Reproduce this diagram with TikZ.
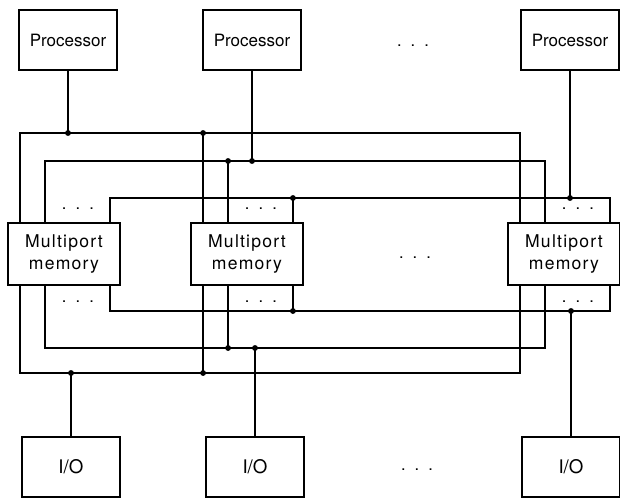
\documentclass[tikz,border=0pt]{standalone}
\usepackage{fontspec}
\setmainfont{TeX Gyre Heros}
\newfontfamily\memfont[LetterSpace=7]{TeX Gyre Heros}
\newcommand{\MemBus}[3]{%
  \draw (mem1-#2) |- (mem3-#2 |- #1) -- (mem3-#2);
  \draw (mem2-#2) -- (mem2-#2 |- #1) node[junc] {};
  \draw (#3) -- (#3 |- #1) node[junc] {};
}

\begin{document}
\begin{tikzpicture}[x=0.03cm,y=-0.03cm,line width=1.35pt,
    unitbox/.style={draw,line width=1.6pt,minimum width=2.94cm,minimum height=1.8cm,
      font=\fontsize{14.5}{16}\selectfont},
    mem/.style={unitbox,minimum width=3.36cm,minimum height=1.86cm,align=center,
      font=\memfont\fontsize{15}{18}\selectfont},
    junc/.style={circle,fill,inner sep=0pt,minimum size=5pt},
    ellip/.style={anchor=base,inner sep=0pt,font=\fontsize{14}{16}\selectfont}]
  \useasboundingbox (0,0) rectangle (620,499);

  % processors
  \node[unitbox] (proc1) at (68,40) {Processor};
  \node[unitbox] (proc2) at (252,40) {Processor};
  \node[unitbox] (proc3) at (570,40) {Processor};
  \node[ellip] (pdots) at (413,46) {.\ \ .\ \ .};

  % memories and their ports
  \foreach \m/\cx in {1/64,2/247,3/564} {
    \node[mem] (mem\m) at (\cx,254) {Multiport\\memory};
    \coordinate (mem\m-ta) at ([shift={(13,0)}]mem\m.north west);
    \coordinate (mem\m-tb) at ([shift={(38,0)}]mem\m.north west);
    \coordinate (mem\m-tc) at ([shift={(-11,0)}]mem\m.north east);
    \coordinate (mem\m-ba) at ([shift={(13,0)}]mem\m.south west);
    \coordinate (mem\m-bb) at ([shift={(38,0)}]mem\m.south west);
    \coordinate (mem\m-bc) at ([shift={(-11,0)}]mem\m.south east);
    \node[ellip] (mem\m-td) at ([shift={(-43,-13)}]mem\m.north east) {.\ \ .\ \ .};
    \node[ellip] (mem\m-bd) at ([shift={(-43,17)}]mem\m.south east) {.\ \ .\ \ .};
  }
  \node[ellip] (mdots) at (415,258) {.\ \ .\ \ .};

  % i/o units
  \node[unitbox,font=\fontsize{16}{18}\selectfont] (io1) at (71,467) {I/O};
  \node[unitbox,font=\fontsize{16}{18}\selectfont] (io2) at (255,467) {I/O};
  \node[unitbox,font=\fontsize{16}{18}\selectfont] (io3) at (571,467) {I/O};
  \node[ellip] (idots) at (417,470) {.\ \ .\ \ .};

  % buses
  \coordinate (busA) at (0,133);
  \coordinate (busB) at (0,161);
  \coordinate (busC) at (0,198);
  \coordinate (busD) at (0,311);
  \coordinate (busE) at (0,348);
  \coordinate (busF) at (0,373);
  \MemBus{busA}{ta}{proc1}
  \MemBus{busB}{tb}{proc2}
  \MemBus{busC}{tc}{proc3}
  \MemBus{busD}{bc}{io3}
  \MemBus{busE}{bb}{io2}
  \MemBus{busF}{ba}{io1}
\end{tikzpicture}
\end{document}
